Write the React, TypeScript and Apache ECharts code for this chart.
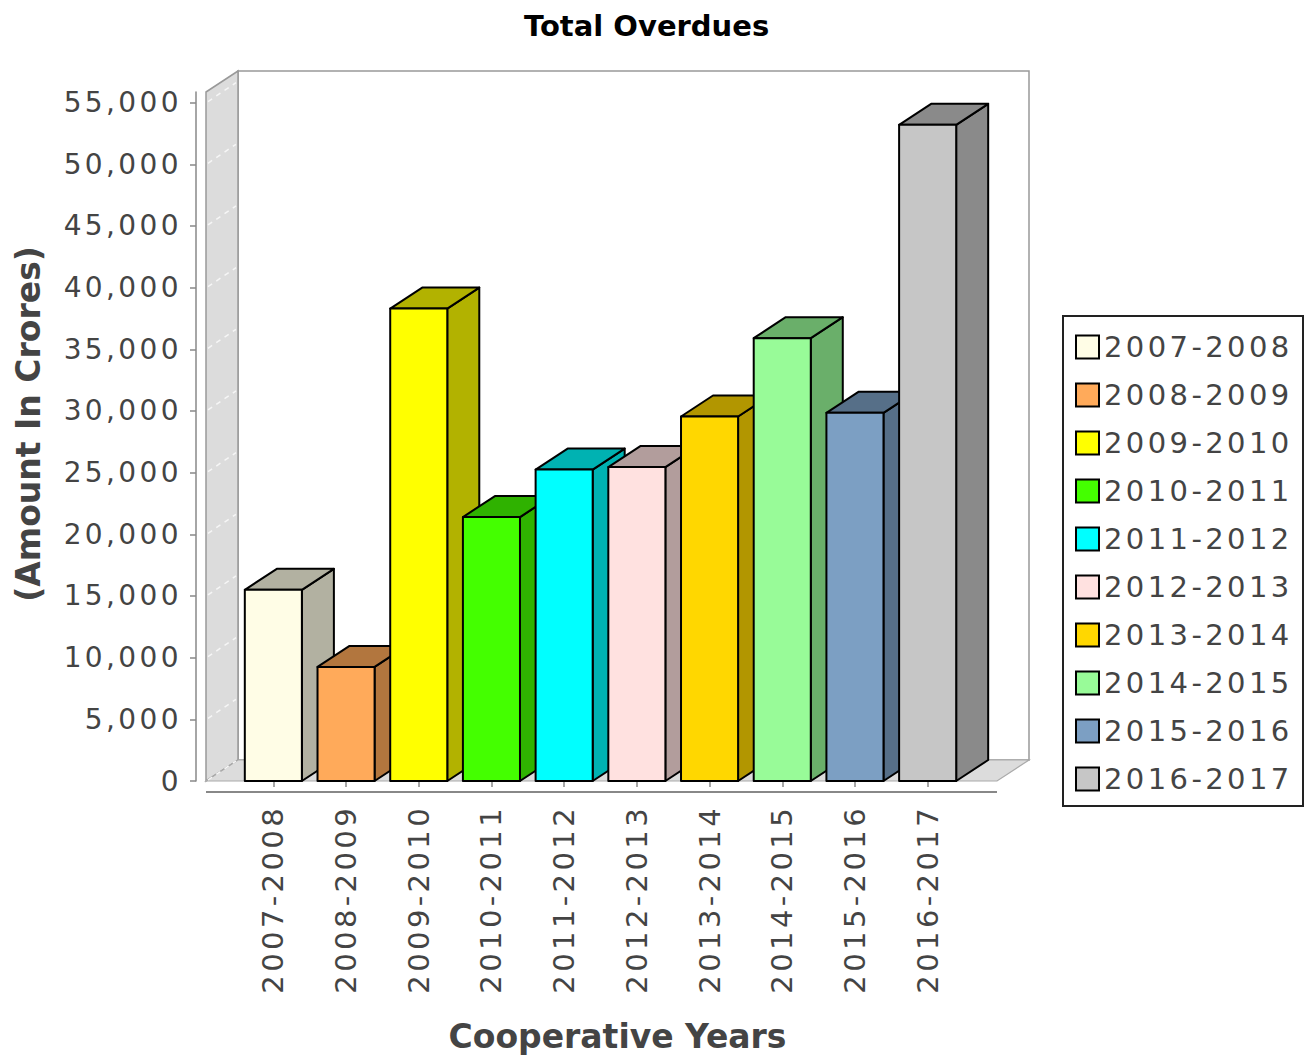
import React, { useEffect, useRef } from 'react';
import * as echarts from 'echarts';

const categories = [
  '2007-2008', '2008-2009', '2009-2010', '2010-2011', '2011-2012',
  '2012-2013', '2013-2014', '2014-2015', '2015-2016', '2016-2017',
];
const overdues = [15500, 9250, 38300, 21400, 25250, 25450, 29550, 35900, 29850, 53200];
const yTicks = [0, 5000, 10000, 15000, 20000, 25000, 30000, 35000, 40000, 45000, 50000, 55000];
const barColors = [
  '#FFFDE6', '#FFAA5A', '#FFFF00', '#44FF00', '#00FFFF',
  '#FFE1E0', '#FFD700', '#98FB98', '#7C9FC3', '#C6C6C6',
];

const W = 1305;
const H = 1059;
const GRID_LEFT = 237;
const GRID_W = 727;
const GRID_TOP = 92;
const GRID_H = 689;
const FRONT_LEFT = 206;
const FRONT_RIGHT = 997;
const DX = 32;
const DY = 21;
const Y_AXIS_X = 196;
const X_AXIS_Y = 792;
const FONT = "'DejaVu Sans', sans-serif";

function darker(hex: string): string {
  const n = parseInt(hex.slice(1), 16);
  const r = Math.floor(((n >> 16) & 255) * 0.7);
  const g = Math.floor(((n >> 8) & 255) * 0.7);
  const b = Math.floor((n & 255) * 0.7);
  return `rgb(${r},${g},${b})`;
}

function App() {
  const ref = useRef<HTMLDivElement>(null);

  useEffect(() => {
    if (!ref.current) return;
    const chart = echarts.init(ref.current, null, { renderer: 'svg', width: W, height: H });
    const yMax = Math.max(...overdues) * 1.05;
    const bottom = GRID_TOP + GRID_H;

    const series = categories.map((name, i) => ({
      type: 'custom',
      name,
      silent: true,
      itemStyle: { color: barColors[i], borderColor: '#000', borderWidth: 2 },
      encode: { x: 0, y: 1 },
      data: [[i, overdues[i]]],
      renderItem: (params: any, api: any) => {
        const idx = api.value(0);
        const val = api.value(1);
        const top = api.coord([idx, val]);
        const base = api.coord([idx, 0]);
        const bw = api.size([1, 0])[0] * 0.785;
        const cx = top[0];
        const yTop = top[1];
        const yBase = base[1];
        const l = cx - bw / 2;
        const r = cx + bw / 2;
        const fill = barColors[i];
        const dark = darker(fill);
        const st = { stroke: '#000', lineWidth: 2, lineJoin: 'round' };
        return {
          type: 'group',
          children: [
            {
              type: 'polygon',
              shape: { points: [[r, yTop], [r + DX, yTop - DY], [r + DX, yBase - DY], [r, yBase]] },
              style: { fill: dark, ...st },
            },
            {
              type: 'polygon',
              shape: { points: [[l, yTop], [l + DX, yTop - DY], [r + DX, yTop - DY], [r, yTop]] },
              style: { fill: dark, ...st },
            },
            {
              type: 'rect',
              shape: { x: l, y: yTop, width: bw, height: yBase - yTop },
              style: { fill, ...st },
            },
          ],
        };
      },
    }));

    chart.setOption({
      animation: false,
      backgroundColor: '#fff',
      title: {
        text: 'Total Overdues',
        left: 519,
        top: 6,
        textStyle: { fontFamily: FONT, fontSize: 29, fontWeight: 'bold', color: '#000' },
      },
      legend: {
        orient: 'vertical',
        left: 1075,
        top: 332,
        padding: 0,
        itemWidth: 23,
        itemHeight: 23,
        itemGap: 18,
        icon: 'rect',
        selectedMode: false,
        data: categories,
        itemStyle: { borderColor: '#000', borderWidth: 2 },
        textStyle: { fontFamily: FONT, fontSize: 29, color: '#444', lineHeight: 30 },
      },
      grid: {
        left: GRID_LEFT,
        top: GRID_TOP,
        width: GRID_W,
        height: GRID_H,
        outerBoundsMode: 'none',
        containLabel: false,
      },
      xAxis: {
        type: 'category',
        data: categories,
        offset: X_AXIS_Y - bottom,
        axisLine: { show: false },
        axisTick: { show: true, alignWithLabel: true, length: 6, lineStyle: { color: '#888', width: 1.5 } },
        axisLabel: {
          rotate: 90,
          margin: 13,
          interval: 0,
          fontFamily: FONT,
          fontSize: 29,
          color: '#444',
        },
        name: 'Cooperative Years',
        nameLocation: 'middle',
        nameGap: 228,
        nameTextStyle: {
          fontFamily: FONT,
          fontSize: 33,
          fontWeight: 'bold',
          color: '#444',
          padding: [0, 0, 0, 34],
        },
      },
      yAxis: {
        type: 'value',
        min: 0,
        max: yMax,
        offset: GRID_LEFT - Y_AXIS_X,
        splitLine: { show: false },
        axisLine: { show: true, lineStyle: { color: '#888', width: 1.5 } },
        axisTick: { show: true, length: 6, customValues: yTicks, lineStyle: { color: '#888', width: 1.5 } },
        axisLabel: {
          customValues: yTicks,
          margin: 14,
          fontFamily: FONT,
          fontSize: 28,
          color: '#444',
          formatter: (v: number) => (v % 5000 === 0 ? v.toLocaleString('en-US') : ''),
        },
        name: '(Amount In Crores)',
        nameLocation: 'middle',
        nameRotate: 90,
        nameGap: 151,
        nameTextStyle: {
          fontFamily: FONT,
          fontSize: 33,
          fontWeight: 'bold',
          color: '#444',
          padding: [0, 0, 0, 25],
        },
      },
      series,
    });

    const tickY = yTicks.map((v) => chart.convertToPixel({ yAxisIndex: 0 }, v) as number);
    const wallLines = tickY.map((y) => ({
      type: 'line',
      z: 1,
      silent: true,
      shape: { x1: FRONT_LEFT + 2, y1: y - 1, x2: FRONT_LEFT + DX - 2, y2: y - DY + 1 },
      style: { stroke: '#f6f6f6', lineWidth: 1.5, lineDash: [5, 5] },
    }));

    chart.setOption({
      graphic: [
        {
          type: 'rect',
          z: 0,
          silent: true,
          shape: { x: FRONT_LEFT + DX, y: GRID_TOP - DY, width: FRONT_RIGHT - FRONT_LEFT, height: GRID_H },
          style: { fill: '#fff', stroke: '#999', lineWidth: 1.5 },
        },
        {
          type: 'polygon',
          z: 0,
          silent: true,
          shape: {
            points: [
              [FRONT_LEFT, GRID_TOP],
              [FRONT_LEFT + DX, GRID_TOP - DY],
              [FRONT_LEFT + DX, bottom - DY],
              [FRONT_LEFT, bottom],
            ],
          },
          style: { fill: '#dcdcdc', stroke: '#999', lineWidth: 1.5 },
        },
        {
          type: 'polygon',
          z: 0,
          silent: true,
          shape: {
            points: [
              [FRONT_LEFT, bottom],
              [FRONT_LEFT + DX, bottom - DY],
              [FRONT_RIGHT + DX, bottom - DY],
              [FRONT_RIGHT, bottom],
            ],
          },
          style: { fill: '#dcdcdc', stroke: '#aaa', lineWidth: 1.2 },
        },
        ...wallLines,
        {
          type: 'line',
          z: 1,
          silent: true,
          shape: { x1: FRONT_LEFT, y1: X_AXIS_Y, x2: FRONT_RIGHT, y2: X_AXIS_Y },
          style: { stroke: '#888', lineWidth: 2 },
        },
        {
          type: 'rect',
          z: 1,
          silent: true,
          shape: { x: 1063, y: 316, width: 240, height: 490 },
          style: { fill: 'none', stroke: '#222', lineWidth: 2 },
        },
      ],
    });

    return () => chart.dispose();
  }, []);

  return (
    <>
      <style>{'#chart-box svg text:not([style*="bold"]){letter-spacing:3.4px;}'}</style>
      <div
        id="chart-box"
        ref={ref}
        style={{ position: 'absolute', left: 0, top: 0, width: W, height: H, background: '#fff' }}
      />
    </>
  );
}

export default App;
